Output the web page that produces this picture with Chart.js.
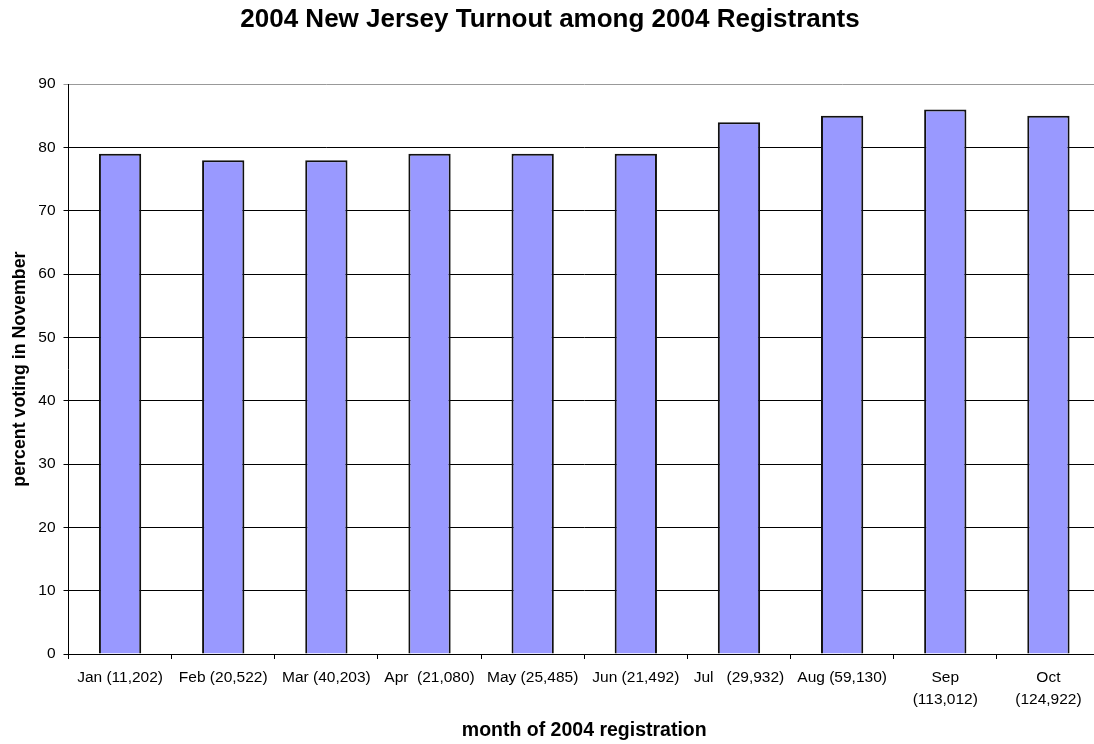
<!DOCTYPE html>
<html>
<head>
<meta charset="utf-8">
<script src="https://cdn.jsdelivr.net/npm/chart.js@4/dist/chart.umd.min.js"></script>
<style>
  html, body { margin: 0; padding: 0; background: #fff; overflow: hidden; }
  #wrap { width: 1104px; height: 744px; position: relative; }
</style>
</head>
<body>
<div id="wrap"><canvas id="turnout"></canvas></div>
<script>
// month of registration, with registrant counts in parentheses
const months = [
  'Jan (11,202)', 'Feb (20,522)', 'Mar (40,203)', 'Apr  (21,080)', 'May (25,485)',
  'Jun (21,492)', 'Jul   (29,932)', 'Aug (59,130)', ['Sep', '(113,012)'], ['Oct', '(124,922)']
];
// percent of each month's registrants who voted in November
const pctVoting = [79, 78, 78, 79, 79, 79, 84, 85, 86, 85];
const yTicks = [0, 10, 20, 30, 40, 50, 60, 70, 80, 90];

const fontFamily = "Arial, 'Liberation Sans', sans-serif";

new Chart(document.getElementById('turnout'), {
  type: 'bar',
  data: {
    labels: months,
    datasets: [{
      data: pctVoting,
      backgroundColor: '#9999ff',
      borderColor: '#111',
      borderWidth: 2,
      barPercentage: 0.41,
      categoryPercentage: 1
    }]
  },
  options: {
    responsive: true,
    maintainAspectRatio: false,
    animation: false,
    layout: { padding: { left: 0, right: 4, top: 0, bottom: 0 } },
    plugins: {
      legend: { display: false },
      tooltip: { enabled: false },
      title: {
        display: true,
        text: '2004 New Jersey Turnout among 2004 Registrants',
        color: '#000',
        font: { family: fontFamily, size: 26, weight: 'bold' },
        padding: { top: 4, bottom: 49 }
      }
    },
    scales: {
      x: {
        grid: {
          display: true,
          drawOnChartArea: false,
          drawTicks: true,
          tickLength: 5,
          color: '#000',
          offset: true
        },
        border: { color: '#000', width: 1 },
        ticks: {
          color: '#000',
          font: { family: fontFamily, size: 15.5, lineHeight: 1.4 },
          maxRotation: 0,
          autoSkip: false,
          padding: 8
        },
        title: {
          display: true,
          text: 'month of 2004 registration',
          color: '#000',
          font: { family: fontFamily, size: 19.5, weight: 'bold' },
          padding: { top: 0.9, bottom: 1.3 }
        }
      },
      y: {
        min: yTicks[0],
        max: yTicks[yTicks.length - 1],
        afterBuildTicks: axis => { axis.ticks = yTicks.map(v => ({ value: v })); },
        grid: {
          color: ctx => ctx.tick && ctx.tick.value === 90 ? '#999' : '#000',
          lineWidth: 1,
          drawTicks: true,
          tickLength: 5
        },
        border: { color: '#000', width: 1 },
        ticks: {
          color: '#000',
          font: { family: fontFamily, size: 15.5 },
          padding: 8
        },
        title: {
          display: true,
          text: 'percent voting in November',
          color: '#000',
          font: { family: fontFamily, size: 17.8, weight: 'bold' },
          padding: { top: 9.3, bottom: -0.4 }
        }
      }
    }
  }
});
</script>
</body>
</html>
